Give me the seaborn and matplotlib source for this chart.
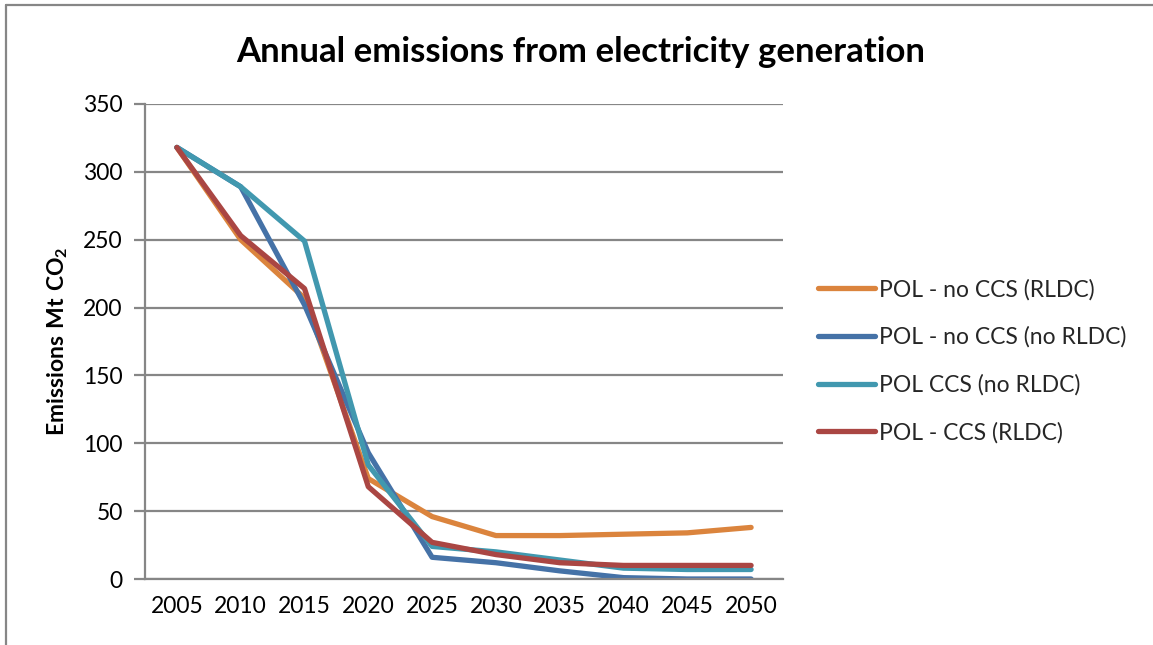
import matplotlib
matplotlib.use("Agg")
import matplotlib.pyplot as plt
from matplotlib.lines import Line2D
import numpy as np
import pandas as pd
import seaborn as sns

# Scenario emissions from electricity generation (Mt CO2)
years = ["2005", "2010", "2015", "2020", "2025", "2030", "2035", "2040", "2045", "2050"]
series_names = [
    "POL - no CCS (RLDC)",
    "POL - no CCS (no RLDC)",
    "POL CCS (no RLDC)",
    "POL - CCS (RLDC)",
]
no_ccs_rldc = [318, 250, 207, 74, 46, 32, 32, 33, 34, 38]
no_ccs_no_rldc = [318, 289, 202, 93, 16, 12, 6, 1, 0, 0]
ccs_no_rldc = [318, 289, 249, 84, 24, 20, 14, 8, 7, 7]
ccs_rldc = [318, 253, 214, 68, 27, 18, 12, 10, 10, 10]
y_ticks = [0, 50, 100, 150, 200, 250, 300, 350]

colors = ["#DB843D", "#4572A7", "#4198AF", "#AA4643"]

series_values = [no_ccs_rldc, no_ccs_no_rldc, ccs_no_rldc, ccs_rldc]
df = pd.concat(
    [
        pd.DataFrame({"idx": np.arange(len(years)), "year": years,
                      "value": vals, "scenario": name})
        for name, vals in zip(series_names, series_values)
    ],
    ignore_index=True,
)

sns.set_theme(style="white")
plt.rcParams["font.family"] = ["Lato", "DejaVu Sans"]
plt.rcParams["mathtext.fontset"] = "custom"
plt.rcParams["mathtext.rm"] = "Lato"
plt.rcParams["mathtext.bf"] = "Lato:bold"

W, H = 1153, 645
fig = plt.figure(figsize=(W / 100, H / 100), dpi=100)
ax = fig.add_axes([145 / W, 66 / H, 638 / W, 475 / H])

grid_color = "#868686"
sns.lineplot(
    data=df, x="idx", y="value", hue="scenario", hue_order=series_names,
    palette=colors, linewidth=3.8, ax=ax, legend=False, sort=False,
    estimator=None,
)
for line in ax.get_lines():
    line.set_solid_capstyle("round")
    line.set_solid_joinstyle("round")

ax.set_xlim(-0.5, len(years) - 0.5)
ax.set_ylim(0, 350)
ax.set_yticks(y_ticks)
ax.yaxis.grid(True, color=grid_color, linewidth=1.6)
ax.set_axisbelow(True)

ax.set_xticks(np.arange(len(years)))
ax.set_xticklabels(years)
ax.set_xticks(np.arange(len(years) + 1) - 0.5, minor=True)
ax.tick_params(axis="x", which="major", length=0, pad=12, labelsize=16.5,
               labelcolor="black")
ax.tick_params(axis="x", which="minor", length=8, width=1.6,
               color=grid_color, direction="out")
ax.tick_params(axis="y", which="major", length=8, width=1.6,
               color=grid_color, direction="out", pad=8, labelsize=16.5,
               labelcolor="black", left=True)

for side in ["top", "right"]:
    ax.spines[side].set_visible(False)
for side in ["left", "bottom"]:
    ax.spines[side].set_color(grid_color)
    ax.spines[side].set_linewidth(1.6)

ax.set_xlabel("")
ax.set_ylabel(r"$\mathbf{Emissions\ Mt\ CO_2}$", fontsize=16.5,
              color="black")
ax.yaxis.set_label_coords(-0.118, 0.5)

fig.text(581 / W, 1 - 52 / H, "Annual emissions from electricity generation",
         ha="center", va="center", fontsize=25, fontweight="bold",
         color="black")

handles = [
    Line2D([0], [0], color=c, linewidth=3.8, solid_capstyle="round")
    for c in colors
]
fig.legend(
    handles, series_names, loc="center left",
    bbox_to_anchor=(818 / W, 1 - 361 / H), frameon=False, fontsize=16.5,
    handlelength=2.5, handletextpad=0.15, labelspacing=1.14,
    borderaxespad=0, borderpad=0,
)

# chart frame
fig.add_artist(Line2D([6 / W, 6 / W], [0, 1 - 5 / H], transform=fig.transFigure,
                      color=grid_color, linewidth=1.6))
fig.add_artist(Line2D([6 / W, 1], [1 - 5 / H, 1 - 5 / H],
                      transform=fig.transFigure, color=grid_color,
                      linewidth=1.6))

fig.savefig("out.png", dpi=100, facecolor="white")
